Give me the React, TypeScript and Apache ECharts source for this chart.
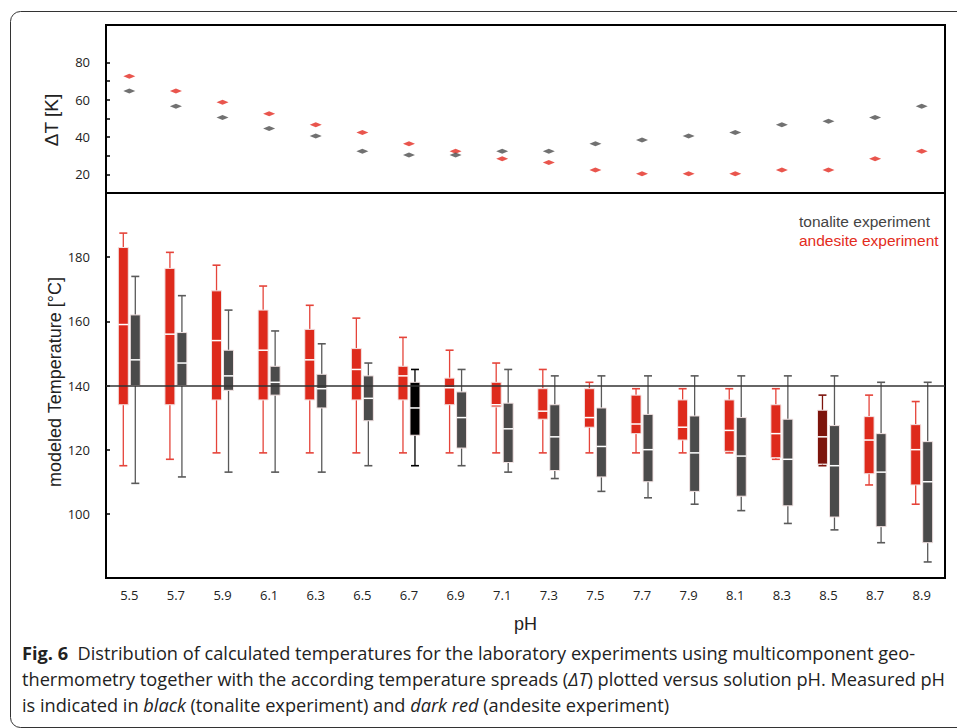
import React, { useEffect, useRef } from "react";
import * as echarts from "echarts";

const pH = ["5.5", "5.7", "5.9", "6.1", "6.3", "6.5", "6.7", "6.9", "7.1", "7.3", "7.5", "7.7", "7.9", "8.1", "8.3", "8.5", "8.7", "8.9"];

// Temperature spreads ΔT [K]
const andesiteDT = [72.6, 64.7, 58.6, 52.5, 46.5, 42.4, 36.4, 32.4, 28.3, 26.4, 22.3, 20.3, 20.3, 20.3, 22.3, 22.3, 28.3, 32.4];
const tonaliteDT = [64.7, 56.5, 50.5, 44.5, 40.5, 32.4, 30.4, 30.4, 32.4, 32.4, 36.4, 38.4, 40.5, 42.4, 46.5, 48.4, 50.5, 56.5];

// Andesite experiment box statistics [°C]
const andesiteLow = [115, 117, 119, 119, 119, 119, 119, 119, 119, 119, 119, 119, 119, 119, 117, 115, 109, 103];
const andesiteQ1 = [134, 134, 135.5, 135.5, 135.5, 135.5, 135.5, 134, 133.3, 129.5, 127, 125, 123, 119.5, 117.5, 115.5, 112.5, 109];
const andesiteMed = [159, 156, 154, 151, 148, 145, 143, 139.3, 134, 132, 130, 128, 127, 126, 125, 124, 123, 120];
const andesiteQ3 = [183, 176.5, 169.5, 163.5, 157.5, 151.5, 146, 142.3, 141, 139, 139, 137, 135.5, 135.5, 134, 132.3, 130.3, 127.8];
const andesiteHigh = [187.5, 181.5, 177.5, 171, 165, 161, 155, 151, 147, 145, 141, 139, 139, 139, 139, 137, 137, 135];

// Tonalite experiment box statistics [°C]
const tonaliteLow = [109.5, 111.5, 113, 113, 113, 115, 115, 115, 113, 111, 107, 105, 103, 101, 97, 95, 91, 85];
const tonaliteQ1 = [140, 140, 138.5, 137, 133, 129, 124.5, 120.5, 116, 113.5, 111.5, 110, 107, 105.5, 102.5, 99, 96, 91];
const tonaliteMed = [148, 147, 143, 141, 139, 136, 133, 130, 126.5, 124, 121, 120, 119, 118, 117, 115, 113, 110];
const tonaliteQ3 = [162, 156.5, 151, 146, 143.5, 143, 141, 138, 134.5, 134, 133, 131, 130.5, 130, 129.5, 127.5, 125, 122.5];
const tonaliteHigh = [174, 168, 163.5, 157, 153, 147, 145, 145, 145, 143, 143, 143, 143, 143, 143, 143, 141, 141];

const measuredTonalitePH = "6.7";
const measuredAndesitePH = "8.5";
const referenceTemperature = 140;

const topTicks = [20, 30, 40, 50, 60, 70, 80];
const topLabels = [20, 40, 60, 80];
const bottomTicks = [100, 120, 140, 160, 180];

const RED = "#de2a1c";
const DARK_RED = "#7d140c";
const GRAY = "#4b4b4b";
const BLACK = "#000000";

function makeRenderItem(offset: number, fill: string, measuredFill: string, measuredIdx: number, whisker: string, measuredWhisker: string) {
  return (params: any, api: any) => {
    const idx = api.value(0);
    const pLow = api.coord([idx, api.value(1)]);
    const pQ1 = api.coord([idx, api.value(2)]);
    const pMed = api.coord([idx, api.value(3)]);
    const pQ3 = api.coord([idx, api.value(4)]);
    const pHigh = api.coord([idx, api.value(5)]);
    const x = pLow[0] + offset;
    const half = 5;
    const cap = 4;
    const isMeasured = idx === measuredIdx;
    const c = isMeasured ? measuredFill : fill;
    const wc = isMeasured ? measuredWhisker : whisker;
    const ws = { stroke: wc, lineWidth: 1.3 };
    return {
      type: "group",
      children: [
        { type: "line", shape: { x1: x, y1: pHigh[1], x2: x, y2: pQ3[1] }, style: ws },
        { type: "line", shape: { x1: x, y1: pQ1[1], x2: x, y2: pLow[1] }, style: ws },
        { type: "line", shape: { x1: x - cap, y1: pHigh[1], x2: x + cap, y2: pHigh[1] }, style: { stroke: wc, lineWidth: 1.6 } },
        { type: "line", shape: { x1: x - cap, y1: pLow[1], x2: x + cap, y2: pLow[1] }, style: { stroke: wc, lineWidth: 1.6 } },
        {
          type: "rect",
          shape: { x: x - half, y: pQ3[1], width: half * 2, height: pQ1[1] - pQ3[1] },
          style: { fill: c, stroke: "#f3e3e3", lineWidth: 1 },
        },
        { type: "line", shape: { x1: x - half, y1: pMed[1], x2: x + half, y2: pMed[1] }, style: { stroke: "#ffffff", lineWidth: 1.5 } },
      ],
    };
  };
}

export default function App() {
  const ref = useRef<HTMLDivElement>(null);

  useEffect(() => {
    if (!ref.current) return;
    const chart = echarts.init(ref.current, null, { renderer: "svg" });

    const andesiteData = pH.map((_, i) => [i, andesiteLow[i], andesiteQ1[i], andesiteMed[i], andesiteQ3[i], andesiteHigh[i]]);
    const tonaliteData = pH.map((_, i) => [i, tonaliteLow[i], tonaliteQ1[i], tonaliteMed[i], tonaliteQ3[i], tonaliteHigh[i]]);

    const axisFont = { fontFamily: "Open Sans", fontSize: 13, color: "#222" };

    const captionRich = {
      b: { fontFamily: "Open Sans", fontSize: 18.2, fontWeight: "bold", fill: "#222" },
      n: { fontFamily: "Open Sans", fontSize: 18.2, fill: "#222" },
      i: { fontFamily: "Open Sans", fontSize: 18.2, fontStyle: "italic", fill: "#222" },
    };

    const option: any = {
      animation: false,
      backgroundColor: "#ffffff",
      grid: [
        { left: 106, top: 25, width: 839, height: 168, show: true, borderColor: "#000", borderWidth: 2, backgroundColor: "transparent" },
        { left: 106, top: 193, width: 839, height: 385, show: true, borderColor: "#000", borderWidth: 2, backgroundColor: "transparent" },
      ],
      legend: {
        show: true,
        orient: "vertical",
        left: 789,
        top: 208,
        itemWidth: 0,
        itemHeight: 0,
        itemGap: 3,
        icon: "rect",
        selectedMode: false,
        textStyle: { fontFamily: "Liberation Sans", fontSize: 15.5 },
        data: [
          { name: "tonalite experiment", textStyle: { color: "#444" } },
          { name: "andesite experiment", textStyle: { color: "#e32b20" } },
        ],
      },
      xAxis: [
        {
          type: "category",
          gridIndex: 0,
          data: pH,
          boundaryGap: true,
          axisLine: { show: false },
          axisTick: { show: false },
          axisLabel: { show: false },
        },
        {
          type: "category",
          gridIndex: 1,
          data: pH,
          boundaryGap: true,
          axisLine: { show: false },
          axisTick: { show: false },
          axisLabel: { ...axisFont, margin: 10 },
          name: "pH",
          nameLocation: "middle",
          nameGap: 37,
          nameTextStyle: { fontFamily: "Liberation Sans", fontSize: 18, color: "#222" },
        },
      ],
      yAxis: [
        {
          type: "value",
          gridIndex: 0,
          min: 10,
          max: 100,
          interval: 10,
          splitLine: { show: false },
          axisLine: { show: false },
          axisTick: { show: true, inside: true, length: 4, lineStyle: { color: "#000", width: 1.5 }, customValues: topTicks },
          axisLabel: { ...axisFont, margin: 16, customValues: topLabels },
        },
        {
          type: "value",
          gridIndex: 1,
          min: 80,
          max: 200,
          interval: 20,
          splitLine: { show: false },
          axisLine: { show: false },
          axisTick: { show: true, inside: true, length: 4, lineStyle: { color: "#000", width: 1.5 }, customValues: bottomTicks },
          axisLabel: { ...axisFont, margin: 16, customValues: bottomTicks },
        },
      ],
      series: [
        {
          name: "andesite ΔT",
          type: "scatter",
          xAxisIndex: 0,
          yAxisIndex: 0,
          symbol: "diamond",
          symbolSize: [12, 5],
          itemStyle: { color: "#e32b20" },
          data: andesiteDT,
          z: 3,
        },
        {
          name: "tonalite ΔT",
          type: "scatter",
          xAxisIndex: 0,
          yAxisIndex: 0,
          symbol: "diamond",
          symbolSize: [12, 5],
          itemStyle: { color: "#4d4d4d" },
          data: tonaliteDT,
          z: 3,
        },
        {
          name: "andesite experiment",
          type: "custom",
          xAxisIndex: 1,
          yAxisIndex: 1,
          itemStyle: { color: "#e32b20" },
          renderItem: makeRenderItem(-6, RED, DARK_RED, pH.indexOf(measuredAndesitePH), "#e5443a", DARK_RED),
          encode: { x: 0, y: [1, 2, 3, 4, 5] },
          data: andesiteData,
          z: 2,
        },
        {
          name: "tonalite experiment",
          type: "custom",
          xAxisIndex: 1,
          yAxisIndex: 1,
          itemStyle: { color: "#444" },
          renderItem: makeRenderItem(6, GRAY, BLACK, pH.indexOf(measuredTonalitePH), "#5a5a5a", BLACK),
          encode: { x: 0, y: [1, 2, 3, 4, 5] },
          data: tonaliteData,
          z: 2,
          markLine: {
            silent: true,
            symbol: ["none", "none"],
            label: { show: false },
            lineStyle: { color: "#333", width: 1.5, type: "solid" },
            data: [{ yAxis: referenceTemperature }],
            z: 5,
          },
        },
      ],
      graphic: [
        {
          type: "rect",
          left: 8,
          top: 9,
          shape: { width: 1000, height: 716, r: 10 },
          style: { fill: "none", stroke: "#333", lineWidth: 1 },
          silent: true,
          z: 0,
        },
        {
          type: "text",
          x: 51,
          y: 120,
          rotation: Math.PI / 2,
          style: {
            text: "ΔT [K]",
            align: "center",
            verticalAlign: "middle",
            fontFamily: "Liberation Sans",
            fontSize: 19,
            fill: "#222",
          },
        },
        {
          type: "text",
          x: 55,
          y: 382,
          rotation: Math.PI / 2,
          style: {
            text: "modeled Temperature [°C]",
            align: "center",
            verticalAlign: "middle",
            fontFamily: "Liberation Sans",
            fontSize: 18,
            fill: "#222",
          },
        },
        {
          type: "text",
          left: 22,
          top: 644,
          style: {
            text: "{b|Fig. 6}{n|  Distribution of calculated temperatures for the laboratory experiments using multicomponent geo-}",
            rich: captionRich,
          },
        },
        {
          type: "text",
          left: 22,
          top: 670,
          style: {
            text: "{n|thermometry together with the according temperature spreads (}{i|ΔT}{n|) plotted versus solution pH. Measured pH}",
            rich: captionRich,
          },
        },
        {
          type: "text",
          left: 22,
          top: 696,
          style: {
            text: "{n|is indicated in }{i|black}{n| (tonalite experiment) and }{i|dark red}{n| (andesite experiment)}",
            rich: captionRich,
          },
        },
      ],
    };

    chart.setOption(option);
    return () => chart.dispose();
  }, []);

  return <div ref={ref} style={{ width: 957, height: 728, position: "absolute", left: 0, top: 0 }} />;
}
